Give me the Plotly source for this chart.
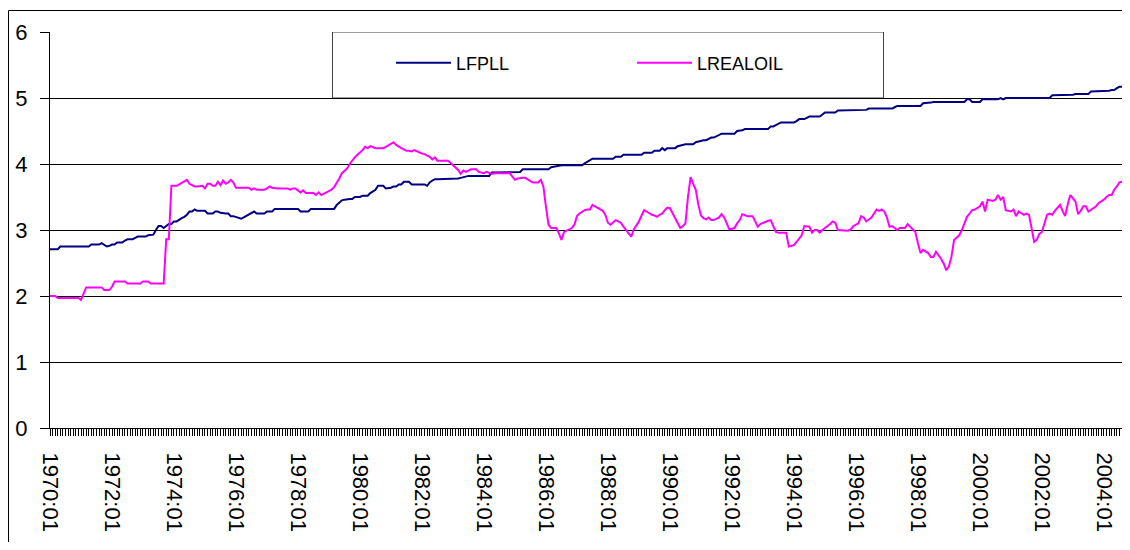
import plotly.graph_objects as go

# Monthly data, 1970:01 .. 2004:08 (one row per year)
lfpll = [
    2.71, 2.71, 2.71, 2.71, 2.75, 2.75, 2.75, 2.75, 2.75, 2.75, 2.75, 2.75,  # 1970
    2.75, 2.75, 2.75, 2.75, 2.78, 2.78, 2.78, 2.78, 2.80, 2.78, 2.75, 2.76,  # 1971
    2.78, 2.78, 2.81, 2.81, 2.81, 2.84, 2.86, 2.86, 2.86, 2.88, 2.90, 2.90,  # 1972
    2.90, 2.90, 2.92, 2.93, 2.93, 3.00, 3.06, 3.06, 3.03, 3.06, 3.09, 3.09,  # 1973
    3.13, 3.13, 3.16, 3.18, 3.20, 3.23, 3.28, 3.28, 3.31, 3.29, 3.29, 3.29,  # 1974
    3.29, 3.25, 3.25, 3.25, 3.28, 3.28, 3.26, 3.25, 3.25, 3.25, 3.21, 3.21,  # 1975
    3.20, 3.19, 3.17, 3.19, 3.21, 3.23, 3.25, 3.28, 3.25, 3.25, 3.25, 3.25,  # 1976
    3.28, 3.28, 3.28, 3.32, 3.32, 3.32, 3.32, 3.32, 3.32, 3.32, 3.32, 3.32,  # 1977
    3.32, 3.28, 3.28, 3.28, 3.28, 3.32, 3.32, 3.32, 3.32, 3.32, 3.32, 3.32,  # 1978
    3.32, 3.32, 3.32, 3.38, 3.42, 3.45, 3.46, 3.47, 3.47, 3.47, 3.50, 3.50,  # 1979
    3.50, 3.52, 3.52, 3.52, 3.56, 3.58, 3.61, 3.67, 3.67, 3.67, 3.63, 3.63,  # 1980
    3.64, 3.66, 3.66, 3.69, 3.69, 3.73, 3.73, 3.73, 3.69, 3.69, 3.69, 3.69,  # 1981
    3.69, 3.69, 3.67, 3.72, 3.75, 3.77, 3.77, 3.77, 3.77, 3.77, 3.77, 3.77,  # 1982
    3.77, 3.77, 3.78, 3.79, 3.80, 3.82, 3.82, 3.82, 3.82, 3.82, 3.82, 3.82,  # 1983
    3.82, 3.82, 3.82, 3.87, 3.87, 3.88, 3.88, 3.88, 3.88, 3.88, 3.88, 3.88,  # 1984
    3.88, 3.88, 3.88, 3.92, 3.92, 3.92, 3.92, 3.92, 3.92, 3.92, 3.92, 3.92,  # 1985
    3.92, 3.92, 3.95, 3.96, 3.96, 3.97, 3.98, 3.98, 3.98, 3.98, 3.98, 3.98,  # 1986
    3.98, 3.98, 3.98, 4.01, 4.03, 4.06, 4.08, 4.08, 4.08, 4.08, 4.08, 4.08,  # 1987
    4.08, 4.08, 4.08, 4.11, 4.11, 4.11, 4.14, 4.14, 4.14, 4.14, 4.14, 4.14,  # 1988
    4.14, 4.14, 4.17, 4.17, 4.17, 4.17, 4.20, 4.20, 4.20, 4.24, 4.21, 4.24,  # 1989
    4.24, 4.24, 4.24, 4.27, 4.28, 4.30, 4.30, 4.30, 4.30, 4.30, 4.33, 4.34,  # 1990
    4.36, 4.36, 4.36, 4.38, 4.40, 4.40, 4.42, 4.44, 4.46, 4.46, 4.46, 4.46,  # 1991
    4.46, 4.46, 4.50, 4.50, 4.51, 4.53, 4.53, 4.53, 4.53, 4.53, 4.53, 4.53,  # 1992
    4.53, 4.53, 4.53, 4.57, 4.57, 4.59, 4.61, 4.63, 4.63, 4.63, 4.63, 4.63,  # 1993
    4.63, 4.65, 4.68, 4.68, 4.68, 4.70, 4.72, 4.72, 4.72, 4.72, 4.72, 4.75,  # 1994
    4.78, 4.78, 4.78, 4.78, 4.78, 4.81, 4.81, 4.81, 4.81, 4.81, 4.81, 4.81,  # 1995
    4.81, 4.81, 4.81, 4.81, 4.82, 4.84, 4.84, 4.84, 4.84, 4.84, 4.84, 4.84,  # 1996
    4.84, 4.84, 4.84, 4.86, 4.88, 4.88, 4.88, 4.88, 4.88, 4.88, 4.88, 4.88,  # 1997
    4.88, 4.88, 4.92, 4.92, 4.92, 4.93, 4.94, 4.94, 4.94, 4.94, 4.94, 4.94,  # 1998
    4.94, 4.94, 4.94, 4.94, 4.94, 4.94, 4.94, 4.98, 4.98, 4.94, 4.94, 4.94,  # 1999
    4.94, 4.98, 4.98, 4.98, 4.98, 4.98, 4.98, 4.98, 5.00, 4.98, 5.00, 5.00,  # 2000
    5.00, 5.00, 5.00, 5.00, 5.00, 5.00, 5.00, 5.00, 5.00, 5.00, 5.00, 5.00,  # 2001
    5.00, 5.00, 5.00, 5.00, 5.04, 5.04, 5.04, 5.04, 5.04, 5.04, 5.04, 5.04,  # 2002
    5.05, 5.06, 5.06, 5.06, 5.06, 5.06, 5.06, 5.10, 5.10, 5.10, 5.10, 5.10,  # 2003
    5.10, 5.10, 5.11, 5.12, 5.12, 5.15, 5.17, 5.17,                          # 2004
]

lrealoil = [
    2.00, 2.00, 2.00, 1.97, 1.97, 1.97, 1.97, 1.97, 1.97, 1.97, 1.97, 1.97,  # 1970
    1.94, 2.04, 2.13, 2.13, 2.13, 2.13, 2.13, 2.13, 2.13, 2.09, 2.09, 2.09,  # 1971
    2.14, 2.22, 2.22, 2.22, 2.22, 2.22, 2.19, 2.19, 2.19, 2.19, 2.19, 2.19,  # 1972
    2.22, 2.22, 2.22, 2.19, 2.19, 2.19, 2.19, 2.19, 2.19, 2.86, 2.86, 3.67,  # 1973
    3.67, 3.67, 3.69, 3.71, 3.73, 3.76, 3.70, 3.68, 3.66, 3.66, 3.66, 3.67,  # 1974
    3.63, 3.70, 3.70, 3.67, 3.67, 3.73, 3.68, 3.75, 3.70, 3.72, 3.76, 3.72,  # 1975
    3.64, 3.64, 3.64, 3.64, 3.64, 3.64, 3.61, 3.63, 3.61, 3.61, 3.61, 3.61,  # 1976
    3.63, 3.66, 3.64, 3.63, 3.63, 3.63, 3.63, 3.63, 3.63, 3.61, 3.63, 3.63,  # 1977
    3.60, 3.57, 3.60, 3.56, 3.56, 3.56, 3.56, 3.53, 3.57, 3.53, 3.55, 3.57,  # 1978
    3.59, 3.61, 3.65, 3.71, 3.78, 3.86, 3.90, 3.93, 4.00, 4.06, 4.10, 4.14,  # 1979
    4.17, 4.21, 4.26, 4.24, 4.27, 4.25, 4.24, 4.24, 4.24, 4.24, 4.26, 4.28,  # 1980
    4.30, 4.33, 4.29, 4.26, 4.24, 4.22, 4.20, 4.20, 4.19, 4.21, 4.19, 4.17,  # 1981
    4.16, 4.15, 4.13, 4.11, 4.07, 4.10, 4.05, 4.05, 4.05, 4.05, 4.05, 4.02,  # 1982
    3.98, 3.95, 3.91, 3.85, 3.90, 3.88, 3.90, 3.92, 3.92, 3.92, 3.88, 3.87,  # 1983
    3.86, 3.88, 3.86, 3.85, 3.86, 3.86, 3.86, 3.86, 3.86, 3.86, 3.86, 3.81,  # 1984
    3.76, 3.78, 3.79, 3.79, 3.79, 3.76, 3.74, 3.72, 3.72, 3.72, 3.76, 3.66,  # 1985
    3.35, 3.08, 3.03, 3.03, 3.03, 2.95, 2.85, 2.97, 2.99, 3.00, 3.03, 3.08,  # 1986
    3.21, 3.25, 3.28, 3.30, 3.31, 3.31, 3.38, 3.36, 3.33, 3.31, 3.29, 3.23,  # 1987
    3.11, 3.08, 3.12, 3.15, 3.13, 3.11, 3.05, 3.00, 2.95, 2.90, 3.01, 3.07,  # 1988
    3.13, 3.22, 3.30, 3.28, 3.25, 3.23, 3.22, 3.20, 3.23, 3.25, 3.30, 3.34,  # 1989
    3.33, 3.25, 3.18, 3.11, 3.03, 3.06, 3.10, 3.51, 3.80, 3.70, 3.61, 3.38,  # 1990
    3.22, 3.18, 3.16, 3.19, 3.15, 3.15, 3.17, 3.19, 3.24, 3.19, 3.10, 3.01,  # 1991
    3.02, 3.03, 3.10, 3.15, 3.24, 3.22, 3.21, 3.21, 3.21, 3.13, 3.05, 3.09,  # 1992
    3.11, 3.13, 3.14, 3.15, 3.06, 2.97, 2.96, 2.96, 2.96, 2.96, 2.75, 2.76,  # 1993
    2.77, 2.82, 2.87, 2.92, 3.06, 3.05, 3.05, 2.96, 3.00, 3.00, 2.96, 3.00,  # 1994
    3.03, 3.05, 3.09, 3.13, 3.11, 3.00, 3.00, 2.99, 2.99, 2.99, 3.01, 3.06,  # 1995
    3.08, 3.10, 3.21, 3.19, 3.13, 3.16, 3.19, 3.25, 3.31, 3.29, 3.31, 3.28,  # 1996
    3.19, 3.05, 3.06, 3.03, 3.00, 3.03, 3.03, 3.03, 3.09, 3.05, 3.01, 2.97,  # 1997
    2.80, 2.65, 2.70, 2.68, 2.65, 2.59, 2.59, 2.67, 2.62, 2.56, 2.49, 2.39,  # 1998
    2.45, 2.60, 2.85, 2.88, 2.92, 3.00, 3.10, 3.20, 3.25, 3.30, 3.31, 3.33,  # 1999
    3.36, 3.43, 3.28, 3.46, 3.45, 3.44, 3.46, 3.53, 3.46, 3.50, 3.30, 3.29,  # 2000
    3.28, 3.31, 3.21, 3.28, 3.25, 3.23, 3.25, 3.23, 3.03, 2.82, 2.85, 2.94,  # 2001
    2.97, 3.10, 3.23, 3.25, 3.23, 3.29, 3.34, 3.38, 3.29, 3.21, 3.39, 3.53,  # 2002
    3.48, 3.43, 3.24, 3.29, 3.36, 3.36, 3.28, 3.31, 3.34, 3.36, 3.41, 3.43,  # 2003
    3.46, 3.50, 3.53, 3.53, 3.61, 3.66, 3.72, 3.73,                          # 2004
]

start_year = 1970
n_months = len(lfpll)
months = list(range(n_months))
month_labels = [f"{start_year + m // 12}:{m % 12 + 1:02d}" for m in months]
tick_vals = [m for m in months if m % 24 == 0]
tick_text = [month_labels[m] for m in tick_vals]

FONT = "Liberation Sans, Arial, sans-serif"

fig = go.Figure()
fig.add_trace(go.Scatter(x=months, y=lfpll, mode="lines", name="LFPLL",
                         line=dict(color="#000080", width=2),
                         showlegend=True, legend="legend"))
fig.add_trace(go.Scatter(x=months, y=lrealoil, mode="lines", name="LREALOIL",
                         line=dict(color="#FF00FF", width=2),
                         showlegend=True, legend="legend2"))

# The page adds an 8px body margin on every side, so the figure is laid out
# in screen coordinates shifted by OFF and sized to the body's content box.
OFF = 8
SCREEN_W, SCREEN_H = 1130, 550
W, H = SCREEN_W - 2 * OFF, SCREEN_H - 2 * OFF
# plot area in screen pixels: x 50..(right edge), y 32..428
L, R, T = 50 - OFF, 0, 32 - OFF
B = (H + OFF) - 428
pw, ph = W - L - R, H - T - B

def px_x(p):  # screen px -> paper fraction
    return (p - OFF - L) / pw

def px_y(p):
    return (H - B - (p - OFF)) / ph

legend_common = dict(xanchor="left", yanchor="middle",
                     bgcolor="rgba(0,0,0,0)", borderwidth=0, itemwidth=55,
                     orientation="h",
                     font=dict(size=18, family=FONT, color="black"))

border = dict(color="black", width=1)

fig.update_layout(
    width=W, height=H,
    margin=dict(l=L, r=R, t=T, b=B, autoexpand=False),
    paper_bgcolor="white", plot_bgcolor="white",
    font=dict(family=FONT, color="black"),
    showlegend=True,
    legend=dict(x=px_x(391), y=px_y(63), **legend_common),
    legend2=dict(x=px_x(632), y=px_y(63), **legend_common),
    xaxis=dict(
        range=[0, n_months - 1], automargin=False,
        tickmode="array", tickvals=tick_vals, ticktext=tick_text,
        tickangle=90, tickfont=dict(size=22, family=FONT, color="black"),
        ticks="outside", ticklen=7, tickcolor="black", tickwidth=1,
        ticklabelstandoff=12,
        minor=dict(dtick=1, tick0=0, ticks="outside", ticklen=7,
                   tickcolor="black", tickwidth=1, showgrid=False),
        showgrid=False, zeroline=False,
        showline=True, linecolor="black", linewidth=1,
    ),
    yaxis=dict(
        range=[0, 6], dtick=1, tick0=0, automargin=False,
        tickfont=dict(size=22, family=FONT, color="black"),
        ticks="outside", ticklen=9, tickcolor="black", tickwidth=1,
        ticklabelstandoff=8,
        showgrid=True, gridcolor="black", gridwidth=1,
        zeroline=False, showline=True, linecolor="black", linewidth=1,
    ),
    shapes=[
        # outer chart border: top and left edges (others are cropped)
        dict(type="line", xref="paper", yref="paper",
             x0=px_x(8.5), x1=1.0, y0=px_y(10.5), y1=px_y(10.5),
             line=border, layer="above"),
        dict(type="line", xref="paper", yref="paper",
             x0=px_x(8.5), x1=px_x(8.5), y0=px_y(10.5), y1=px_y(560),
             line=border, layer="above"),
        # legend box
        dict(type="rect", xref="paper", yref="y",
             x0=px_x(332.5), x1=px_x(883.5), y0=5, y1=6,
             line=dict(color="#404040", width=1), fillcolor="white",
             layer="below"),
    ],
)

fig.write_html("out.html")
